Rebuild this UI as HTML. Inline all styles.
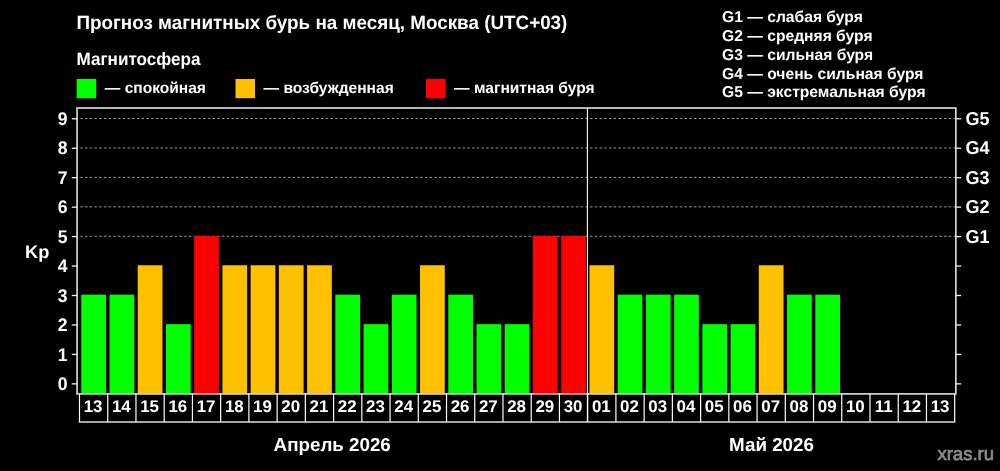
<!DOCTYPE html>
<html lang="ru"><head><meta charset="utf-8"><title>Прогноз магнитных бурь</title>
<style>
html,body{margin:0;padding:0;background:#000;}
body{width:1000px;height:471px;overflow:hidden;}
svg{display:block;font-family:"Liberation Sans",sans-serif;font-weight:bold;fill:#fff;text-rendering:geometricPrecision;}
</style></head><body>
<svg width="1000" height="471" viewBox="0 0 1000 471">
<rect width="1000" height="471" fill="#000"/>

<text transform="translate(76.40,28.70) scale(1,1.02)" font-size="18.85">Прогноз магнитных бурь на месяц, Москва (UTC+03)</text>
<text transform="translate(76.50,64.60) scale(1,1.04)" font-size="17.1">Магнитосфера</text>
<rect x="76.7" y="79" width="19.5" height="19.2" fill="#00ff00"/>
<text x="104.80" y="92.90" font-size="15.55">— спокойная</text>
<rect x="235.5" y="79" width="19.5" height="19.2" fill="#ffc000"/>
<text x="263.60" y="92.90" font-size="15.55">— возбужденная</text>
<rect x="426" y="79" width="19.5" height="19.2" fill="#ff0000"/>
<text x="454.10" y="92.90" font-size="15.55">— магнитная буря</text>
<text x="722.00" y="22.30" font-size="15.65">G1 — слабая буря</text>
<text x="722.00" y="41.05" font-size="15.65">G2 — средняя буря</text>
<text x="722.00" y="59.80" font-size="15.65">G3 — сильная буря</text>
<text x="722.00" y="78.55" font-size="15.65">G4 — очень сильная буря</text>
<text x="722.00" y="97.30" font-size="15.65">G5 — экстремальная буря</text>
<line x1="80.3" x2="955.85" y1="236.30" y2="236.30" stroke="#989898" stroke-width="1" stroke-dasharray="2.5 2.22"/>
<line x1="80.3" x2="955.85" y1="206.85" y2="206.85" stroke="#989898" stroke-width="1" stroke-dasharray="2.5 2.22"/>
<line x1="80.3" x2="955.85" y1="177.40" y2="177.40" stroke="#989898" stroke-width="1" stroke-dasharray="2.5 2.22"/>
<line x1="80.3" x2="955.85" y1="147.95" y2="147.95" stroke="#989898" stroke-width="1" stroke-dasharray="2.5 2.22"/>
<line x1="80.3" x2="955.85" y1="118.50" y2="118.50" stroke="#989898" stroke-width="1" stroke-dasharray="2.5 2.22"/>
<rect x="81.25" y="294.70" width="24.73" height="99.20" fill="#00ff00"/>
<rect x="109.48" y="294.70" width="24.73" height="99.20" fill="#00ff00"/>
<rect x="137.71" y="265.25" width="24.73" height="128.65" fill="#ffc000"/>
<rect x="165.95" y="324.15" width="24.73" height="69.75" fill="#00ff00"/>
<rect x="194.18" y="235.80" width="24.73" height="158.10" fill="#ff0000"/>
<rect x="222.41" y="265.25" width="24.73" height="128.65" fill="#ffc000"/>
<rect x="250.64" y="265.25" width="24.73" height="128.65" fill="#ffc000"/>
<rect x="278.87" y="265.25" width="24.73" height="128.65" fill="#ffc000"/>
<rect x="307.11" y="265.25" width="24.73" height="128.65" fill="#ffc000"/>
<rect x="335.34" y="294.70" width="24.73" height="99.20" fill="#00ff00"/>
<rect x="363.57" y="324.15" width="24.73" height="69.75" fill="#00ff00"/>
<rect x="391.80" y="294.70" width="24.73" height="99.20" fill="#00ff00"/>
<rect x="420.03" y="265.25" width="24.73" height="128.65" fill="#ffc000"/>
<rect x="448.27" y="294.70" width="24.73" height="99.20" fill="#00ff00"/>
<rect x="476.50" y="324.15" width="24.73" height="69.75" fill="#00ff00"/>
<rect x="504.73" y="324.15" width="24.73" height="69.75" fill="#00ff00"/>
<rect x="532.96" y="235.80" width="24.73" height="158.10" fill="#ff0000"/>
<rect x="561.19" y="235.80" width="24.73" height="158.10" fill="#ff0000"/>
<rect x="589.43" y="265.25" width="24.73" height="128.65" fill="#ffc000"/>
<rect x="617.66" y="294.70" width="24.73" height="99.20" fill="#00ff00"/>
<rect x="645.89" y="294.70" width="24.73" height="99.20" fill="#00ff00"/>
<rect x="674.12" y="294.70" width="24.73" height="99.20" fill="#00ff00"/>
<rect x="702.35" y="324.15" width="24.73" height="69.75" fill="#00ff00"/>
<rect x="730.59" y="324.15" width="24.73" height="69.75" fill="#00ff00"/>
<rect x="758.82" y="265.25" width="24.73" height="128.65" fill="#ffc000"/>
<rect x="787.05" y="294.70" width="24.73" height="99.20" fill="#00ff00"/>
<rect x="815.28" y="294.70" width="24.73" height="99.20" fill="#00ff00"/>
<rect x="77.05" y="108.0" width="878.8000000000001" height="285.9" fill="none" stroke="#d4d4d4" stroke-width="1.7"/>
<rect x="81.25" y="393.10" width="24.73" height="1.6" fill="#00ff00" opacity="0.3"/>
<rect x="109.48" y="393.10" width="24.73" height="1.6" fill="#00ff00" opacity="0.3"/>
<rect x="137.71" y="393.10" width="24.73" height="1.6" fill="#ffc000" opacity="0.3"/>
<rect x="165.95" y="393.10" width="24.73" height="1.6" fill="#00ff00" opacity="0.3"/>
<rect x="194.18" y="393.10" width="24.73" height="1.6" fill="#ff0000" opacity="0.3"/>
<rect x="222.41" y="393.10" width="24.73" height="1.6" fill="#ffc000" opacity="0.3"/>
<rect x="250.64" y="393.10" width="24.73" height="1.6" fill="#ffc000" opacity="0.3"/>
<rect x="278.87" y="393.10" width="24.73" height="1.6" fill="#ffc000" opacity="0.3"/>
<rect x="307.11" y="393.10" width="24.73" height="1.6" fill="#ffc000" opacity="0.3"/>
<rect x="335.34" y="393.10" width="24.73" height="1.6" fill="#00ff00" opacity="0.3"/>
<rect x="363.57" y="393.10" width="24.73" height="1.6" fill="#00ff00" opacity="0.3"/>
<rect x="391.80" y="393.10" width="24.73" height="1.6" fill="#00ff00" opacity="0.3"/>
<rect x="420.03" y="393.10" width="24.73" height="1.6" fill="#ffc000" opacity="0.3"/>
<rect x="448.27" y="393.10" width="24.73" height="1.6" fill="#00ff00" opacity="0.3"/>
<rect x="476.50" y="393.10" width="24.73" height="1.6" fill="#00ff00" opacity="0.3"/>
<rect x="504.73" y="393.10" width="24.73" height="1.6" fill="#00ff00" opacity="0.3"/>
<rect x="532.96" y="393.10" width="24.73" height="1.6" fill="#ff0000" opacity="0.3"/>
<rect x="561.19" y="393.10" width="24.73" height="1.6" fill="#ff0000" opacity="0.3"/>
<rect x="589.43" y="393.10" width="24.73" height="1.6" fill="#ffc000" opacity="0.3"/>
<rect x="617.66" y="393.10" width="24.73" height="1.6" fill="#00ff00" opacity="0.3"/>
<rect x="645.89" y="393.10" width="24.73" height="1.6" fill="#00ff00" opacity="0.3"/>
<rect x="674.12" y="393.10" width="24.73" height="1.6" fill="#00ff00" opacity="0.3"/>
<rect x="702.35" y="393.10" width="24.73" height="1.6" fill="#00ff00" opacity="0.3"/>
<rect x="730.59" y="393.10" width="24.73" height="1.6" fill="#00ff00" opacity="0.3"/>
<rect x="758.82" y="393.10" width="24.73" height="1.6" fill="#ffc000" opacity="0.3"/>
<rect x="787.05" y="393.10" width="24.73" height="1.6" fill="#00ff00" opacity="0.3"/>
<rect x="815.28" y="393.10" width="24.73" height="1.6" fill="#00ff00" opacity="0.3"/>
<line x1="587.4" x2="587.4" y1="108.0" y2="422" stroke="#fff" stroke-width="1.1"/>
<line x1="71.8" x2="77.05" y1="383.85" y2="383.85" stroke="#eee" stroke-width="1.3"/>
<line x1="955.85" x2="961.2" y1="383.85" y2="383.85" stroke="#eee" stroke-width="1.3"/>
<text transform="translate(67.60,389.95) scale(1,1.04)" font-size="17.6" text-anchor="end">0</text>
<line x1="71.8" x2="77.05" y1="354.40" y2="354.40" stroke="#eee" stroke-width="1.3"/>
<line x1="955.85" x2="961.2" y1="354.40" y2="354.40" stroke="#eee" stroke-width="1.3"/>
<text transform="translate(67.60,360.50) scale(1,1.04)" font-size="17.6" text-anchor="end">1</text>
<line x1="71.8" x2="77.05" y1="324.95" y2="324.95" stroke="#eee" stroke-width="1.3"/>
<line x1="955.85" x2="961.2" y1="324.95" y2="324.95" stroke="#eee" stroke-width="1.3"/>
<text transform="translate(67.60,331.05) scale(1,1.04)" font-size="17.6" text-anchor="end">2</text>
<line x1="71.8" x2="77.05" y1="295.50" y2="295.50" stroke="#eee" stroke-width="1.3"/>
<line x1="955.85" x2="961.2" y1="295.50" y2="295.50" stroke="#eee" stroke-width="1.3"/>
<text transform="translate(67.60,301.60) scale(1,1.04)" font-size="17.6" text-anchor="end">3</text>
<line x1="71.8" x2="77.05" y1="266.05" y2="266.05" stroke="#eee" stroke-width="1.3"/>
<line x1="955.85" x2="961.2" y1="266.05" y2="266.05" stroke="#eee" stroke-width="1.3"/>
<text transform="translate(67.60,272.15) scale(1,1.04)" font-size="17.6" text-anchor="end">4</text>
<line x1="71.8" x2="77.05" y1="236.60" y2="236.60" stroke="#eee" stroke-width="1.3"/>
<line x1="955.85" x2="961.2" y1="236.60" y2="236.60" stroke="#eee" stroke-width="1.3"/>
<text transform="translate(67.60,242.70) scale(1,1.04)" font-size="17.6" text-anchor="end">5</text>
<text transform="translate(965.60,242.70) scale(1,1.04)" font-size="18.0">G1</text>
<line x1="71.8" x2="77.05" y1="207.15" y2="207.15" stroke="#eee" stroke-width="1.3"/>
<line x1="955.85" x2="961.2" y1="207.15" y2="207.15" stroke="#eee" stroke-width="1.3"/>
<text transform="translate(67.60,213.25) scale(1,1.04)" font-size="17.6" text-anchor="end">6</text>
<text transform="translate(965.60,213.25) scale(1,1.04)" font-size="18.0">G2</text>
<line x1="71.8" x2="77.05" y1="177.70" y2="177.70" stroke="#eee" stroke-width="1.3"/>
<line x1="955.85" x2="961.2" y1="177.70" y2="177.70" stroke="#eee" stroke-width="1.3"/>
<text transform="translate(67.60,183.80) scale(1,1.04)" font-size="17.6" text-anchor="end">7</text>
<text transform="translate(965.60,183.80) scale(1,1.04)" font-size="18.0">G3</text>
<line x1="71.8" x2="77.05" y1="148.25" y2="148.25" stroke="#eee" stroke-width="1.3"/>
<line x1="955.85" x2="961.2" y1="148.25" y2="148.25" stroke="#eee" stroke-width="1.3"/>
<text transform="translate(67.60,154.35) scale(1,1.04)" font-size="17.6" text-anchor="end">8</text>
<text transform="translate(965.60,154.35) scale(1,1.04)" font-size="18.0">G4</text>
<line x1="71.8" x2="77.05" y1="118.80" y2="118.80" stroke="#eee" stroke-width="1.3"/>
<line x1="955.85" x2="961.2" y1="118.80" y2="118.80" stroke="#eee" stroke-width="1.3"/>
<text transform="translate(67.60,124.90) scale(1,1.04)" font-size="17.6" text-anchor="end">9</text>
<text transform="translate(965.60,124.90) scale(1,1.04)" font-size="18.0">G5</text>
<text x="25.00" y="257.70" font-size="18.2">Kp</text>
<line x1="79.50" x2="79.50" y1="393.9" y2="422" stroke="#fff" stroke-width="1.2"/>
<line x1="107.73" x2="107.73" y1="393.9" y2="422" stroke="#fff" stroke-width="1.2"/>
<line x1="135.96" x2="135.96" y1="393.9" y2="422" stroke="#fff" stroke-width="1.2"/>
<line x1="164.20" x2="164.20" y1="393.9" y2="422" stroke="#fff" stroke-width="1.2"/>
<line x1="192.43" x2="192.43" y1="393.9" y2="422" stroke="#fff" stroke-width="1.2"/>
<line x1="220.66" x2="220.66" y1="393.9" y2="422" stroke="#fff" stroke-width="1.2"/>
<line x1="248.89" x2="248.89" y1="393.9" y2="422" stroke="#fff" stroke-width="1.2"/>
<line x1="277.12" x2="277.12" y1="393.9" y2="422" stroke="#fff" stroke-width="1.2"/>
<line x1="305.36" x2="305.36" y1="393.9" y2="422" stroke="#fff" stroke-width="1.2"/>
<line x1="333.59" x2="333.59" y1="393.9" y2="422" stroke="#fff" stroke-width="1.2"/>
<line x1="361.82" x2="361.82" y1="393.9" y2="422" stroke="#fff" stroke-width="1.2"/>
<line x1="390.05" x2="390.05" y1="393.9" y2="422" stroke="#fff" stroke-width="1.2"/>
<line x1="418.28" x2="418.28" y1="393.9" y2="422" stroke="#fff" stroke-width="1.2"/>
<line x1="446.52" x2="446.52" y1="393.9" y2="422" stroke="#fff" stroke-width="1.2"/>
<line x1="474.75" x2="474.75" y1="393.9" y2="422" stroke="#fff" stroke-width="1.2"/>
<line x1="502.98" x2="502.98" y1="393.9" y2="422" stroke="#fff" stroke-width="1.2"/>
<line x1="531.21" x2="531.21" y1="393.9" y2="422" stroke="#fff" stroke-width="1.2"/>
<line x1="559.44" x2="559.44" y1="393.9" y2="422" stroke="#fff" stroke-width="1.2"/>
<line x1="587.68" x2="587.68" y1="393.9" y2="422" stroke="#fff" stroke-width="1.2"/>
<line x1="615.91" x2="615.91" y1="393.9" y2="422" stroke="#fff" stroke-width="1.2"/>
<line x1="644.14" x2="644.14" y1="393.9" y2="422" stroke="#fff" stroke-width="1.2"/>
<line x1="672.37" x2="672.37" y1="393.9" y2="422" stroke="#fff" stroke-width="1.2"/>
<line x1="700.60" x2="700.60" y1="393.9" y2="422" stroke="#fff" stroke-width="1.2"/>
<line x1="728.84" x2="728.84" y1="393.9" y2="422" stroke="#fff" stroke-width="1.2"/>
<line x1="757.07" x2="757.07" y1="393.9" y2="422" stroke="#fff" stroke-width="1.2"/>
<line x1="785.30" x2="785.30" y1="393.9" y2="422" stroke="#fff" stroke-width="1.2"/>
<line x1="813.53" x2="813.53" y1="393.9" y2="422" stroke="#fff" stroke-width="1.2"/>
<line x1="841.76" x2="841.76" y1="393.9" y2="422" stroke="#fff" stroke-width="1.2"/>
<line x1="870.00" x2="870.00" y1="393.9" y2="422" stroke="#fff" stroke-width="1.2"/>
<line x1="898.23" x2="898.23" y1="393.9" y2="422" stroke="#fff" stroke-width="1.2"/>
<line x1="926.46" x2="926.46" y1="393.9" y2="422" stroke="#fff" stroke-width="1.2"/>
<line x1="954.69" x2="954.69" y1="393.9" y2="422" stroke="#fff" stroke-width="1.2"/>
<line x1="78.9" x2="955.29" y1="422" y2="422" stroke="#ddd" stroke-width="1.6"/>
<text x="93.12" y="412.30" font-size="16.9" text-anchor="middle">13</text>
<text x="121.35" y="412.30" font-size="16.9" text-anchor="middle">14</text>
<text x="149.58" y="412.30" font-size="16.9" text-anchor="middle">15</text>
<text x="177.81" y="412.30" font-size="16.9" text-anchor="middle">16</text>
<text x="206.04" y="412.30" font-size="16.9" text-anchor="middle">17</text>
<text x="234.28" y="412.30" font-size="16.9" text-anchor="middle">18</text>
<text x="262.51" y="412.30" font-size="16.9" text-anchor="middle">19</text>
<text x="290.74" y="412.30" font-size="16.9" text-anchor="middle">20</text>
<text x="318.97" y="412.30" font-size="16.9" text-anchor="middle">21</text>
<text x="347.20" y="412.30" font-size="16.9" text-anchor="middle">22</text>
<text x="375.44" y="412.30" font-size="16.9" text-anchor="middle">23</text>
<text x="403.67" y="412.30" font-size="16.9" text-anchor="middle">24</text>
<text x="431.90" y="412.30" font-size="16.9" text-anchor="middle">25</text>
<text x="460.13" y="412.30" font-size="16.9" text-anchor="middle">26</text>
<text x="488.36" y="412.30" font-size="16.9" text-anchor="middle">27</text>
<text x="516.60" y="412.30" font-size="16.9" text-anchor="middle">28</text>
<text x="544.83" y="412.30" font-size="16.9" text-anchor="middle">29</text>
<text x="573.06" y="412.30" font-size="16.9" text-anchor="middle">30</text>
<text x="601.29" y="412.30" font-size="16.9" text-anchor="middle">01</text>
<text x="629.52" y="412.30" font-size="16.9" text-anchor="middle">02</text>
<text x="657.76" y="412.30" font-size="16.9" text-anchor="middle">03</text>
<text x="685.99" y="412.30" font-size="16.9" text-anchor="middle">04</text>
<text x="714.22" y="412.30" font-size="16.9" text-anchor="middle">05</text>
<text x="742.45" y="412.30" font-size="16.9" text-anchor="middle">06</text>
<text x="770.68" y="412.30" font-size="16.9" text-anchor="middle">07</text>
<text x="798.92" y="412.30" font-size="16.9" text-anchor="middle">08</text>
<text x="827.15" y="412.30" font-size="16.9" text-anchor="middle">09</text>
<text x="855.38" y="412.30" font-size="16.9" text-anchor="middle">10</text>
<text x="883.61" y="412.30" font-size="16.9" text-anchor="middle">11</text>
<text x="911.84" y="412.30" font-size="16.9" text-anchor="middle">12</text>
<text x="940.08" y="412.30" font-size="16.9" text-anchor="middle">13</text>
<text x="332.20" y="450.50" font-size="18.77" text-anchor="middle">Апрель 2026</text>
<text x="771.50" y="450.50" font-size="18.77" text-anchor="middle">Май 2026</text>
<text x="994.00" y="459.70" font-size="18.5" text-anchor="end" fill="#8c8c8c" stroke="#8c8c8c" stroke-width="0.7" font-weight="normal">xras.ru</text>
</svg></body></html>
